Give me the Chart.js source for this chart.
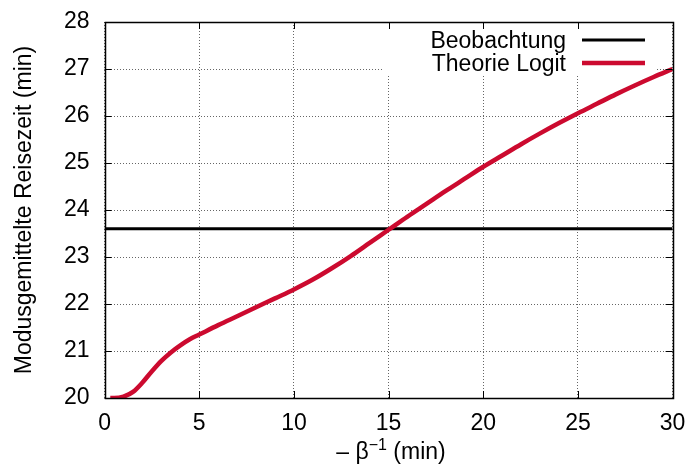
<!DOCTYPE html>
<html>
<head>
<meta charset="utf-8">
<script src="https://cdn.jsdelivr.net/npm/chart.js@4/dist/chart.umd.min.js"></script>
<style>
  html, body { margin: 0; padding: 0; background: #fff; }
  canvas { display: block; }
</style>
</head>
<body>
<canvas id="c" width="691" height="472"></canvas>
<script>
// ---- data ----
const xValues = [0.3, 0.5, 1, 1.5, 2, 2.5, 3, 3.5, 4, 4.5, 5, 6, 7, 8, 9, 10, 11, 12, 13, 14, 15,
                 16, 17, 18, 19, 20, 21, 22, 23, 24, 25, 26, 27, 28, 29, 30];
const theorieLogit = [20.0, 20.0, 20.03, 20.13, 20.33, 20.57, 20.79, 20.97, 21.12, 21.25, 21.35, 21.55,
                      21.74, 21.93, 22.12, 22.31, 22.52, 22.76, 23.02, 23.3, 23.58, 23.86, 24.13,
                      24.4, 24.66, 24.92, 25.16, 25.4, 25.63, 25.85, 26.06, 26.26, 26.46, 26.65,
                      26.83, 27.0];
const beobachtungX = [0, 30];
const beobachtungY = [23.6, 23.6];
const xTickValues = [0, 5, 10, 15, 20, 25, 30];
const yTickValues = [20, 21, 22, 23, 24, 25, 26, 27, 28];
const seriesLabels = ['Beobachtung', 'Theorie Logit'];
const yTitle = 'Modusgemittelte Reisezeit (min)';
const xTitleParts = ['\u2013 \u03B2', '\u22121', ' (min)'];

const FONT = "'Liberation Sans', Arial, Helvetica, sans-serif";
const RED = '#cc0a2f';
const FS = 23;

const frameTicks = {
  id: 'frameTicks',
  beforeDatasetsDraw(chart) {
    const ctx = chart.ctx;
    ctx.save();
    ctx.fillStyle = '#fff';
    ctx.fillRect(383, chart.chartArea.top + 1, 274, 52);
    ctx.restore();
  },
  afterDatasetsDraw(chart) {
    const ctx = chart.ctx;
    const a = chart.chartArea;
    const xs = chart.scales.x, ys = chart.scales.y;
    ctx.save();
    ctx.strokeStyle = '#000';
    ctx.lineWidth = 1;
    const L = 7;
    ctx.beginPath();
    xTickValues.forEach(v => {
      const px = Math.round(xs.getPixelForValue(v)) + 0.5;
      ctx.moveTo(px, a.bottom); ctx.lineTo(px, a.bottom - L);
      ctx.moveTo(px, a.top); ctx.lineTo(px, a.top + L);
    });
    yTickValues.forEach(v => {
      const py = Math.round(ys.getPixelForValue(v)) + 0.5;
      ctx.moveTo(a.left, py); ctx.lineTo(a.left + L, py);
      ctx.moveTo(a.right, py); ctx.lineTo(a.right - L, py);
    });
    ctx.stroke();
    ctx.lineWidth = 1.5;
    ctx.strokeRect(Math.round(a.left) + 0.5, Math.round(a.top) + 0.5,
                   Math.round(a.right - a.left), Math.round(a.bottom - a.top));

    // legend (gnuplot style: text right-aligned, sample on the right)
    ctx.font = FS + 'px ' + FONT;
    ctx.fillStyle = '#000';
    ctx.textAlign = 'right';
    ctx.textBaseline = 'alphabetic';
    const rows = [{y: 40, color: '#000', w: 3}, {y: 63, color: RED, w: 4.5}];
    rows.forEach((r, i) => {
      ctx.fillText(seriesLabels[i], 566, r.y + 8);
      ctx.beginPath();
      ctx.strokeStyle = r.color;
      ctx.lineWidth = r.w;
      ctx.moveTo(582, r.y); ctx.lineTo(645, r.y);
      ctx.stroke();
    });

    // y title
    ctx.save();
    ctx.translate(25, (a.top + a.bottom) / 2);
    ctx.rotate(-Math.PI / 2);
    ctx.textAlign = 'center';
    ctx.textBaseline = 'middle';
    ctx.font = FS + 'px ' + FONT;
    ctx.fillText(yTitle, 0, 0);
    ctx.restore();

    // x title with superscript
    const big = FS + 'px ' + FONT, small = '16px ' + FONT;
    ctx.font = big; const w1 = ctx.measureText(xTitleParts[0]).width;
    ctx.font = small; const w2 = ctx.measureText(xTitleParts[1]).width;
    ctx.font = big; const w3 = ctx.measureText(xTitleParts[2]).width;
    let x = 391 - (w1 + w2 + w3) / 2;
    const base = 459;
    ctx.textAlign = 'left';
    ctx.textBaseline = 'alphabetic';
    ctx.font = big; ctx.fillText(xTitleParts[0], x, base); x += w1;
    ctx.font = small; ctx.fillText(xTitleParts[1], x, base - 9); x += w2;
    ctx.font = big; ctx.fillText(xTitleParts[2], x, base);
    ctx.restore();
  }
};

Chart.defaults.font.family = FONT;
Chart.defaults.color = '#000';

new Chart(document.getElementById('c'), {
  type: 'line',
  data: {
    datasets: [
      {
        label: seriesLabels[1],
        data: xValues.map((x, i) => ({x, y: theorieLogit[i]})),
        borderColor: RED,
        borderWidth: 4.5,
        pointRadius: 0,
        cubicInterpolationMode: 'monotone',
        order: 0
      },
      {
        label: seriesLabels[0],
        data: beobachtungX.map((x, i) => ({x, y: beobachtungY[i]})),
        borderColor: '#000',
        borderWidth: 3,
        pointRadius: 0,
        order: 1
      }
    ]
  },
  options: {
    responsive: false,
    animation: false,
    events: [],
    layout: { padding: { top: 22, right: 18.4, left: 0, bottom: 0 } },
    plugins: { legend: { display: false }, tooltip: { enabled: false } },
    scales: {
      x: {
        type: 'linear',
        min: 0, max: 30,
        afterBuildTicks: s => { s.ticks = xTickValues.map(v => ({value: v})); },
        afterFit: s => { s.height = 74; s.paddingLeft = 0; s.paddingRight = 0; },
        grid: { color: 'rgba(0,0,0,0.6)', lineWidth: 1, drawTicks: false },
        border: { display: false, dash: [1, 2] },
        ticks: { font: { size: FS }, padding: 12, maxRotation: 0 }
      },
      y: {
        type: 'linear',
        min: 20, max: 28,
        afterBuildTicks: s => { s.ticks = yTickValues.map(v => ({value: v})); },
        afterFit: s => { s.width = 104.6; s.paddingTop = 0; s.paddingBottom = 0; },
        grid: { color: 'rgba(0,0,0,0.6)', lineWidth: 1, drawTicks: false },
        border: { display: false, dash: [1, 2] },
        ticks: { font: { size: FS }, padding: 15 }
      }
    }
  },
  plugins: [frameTicks]
});
</script>
</body>
</html>
